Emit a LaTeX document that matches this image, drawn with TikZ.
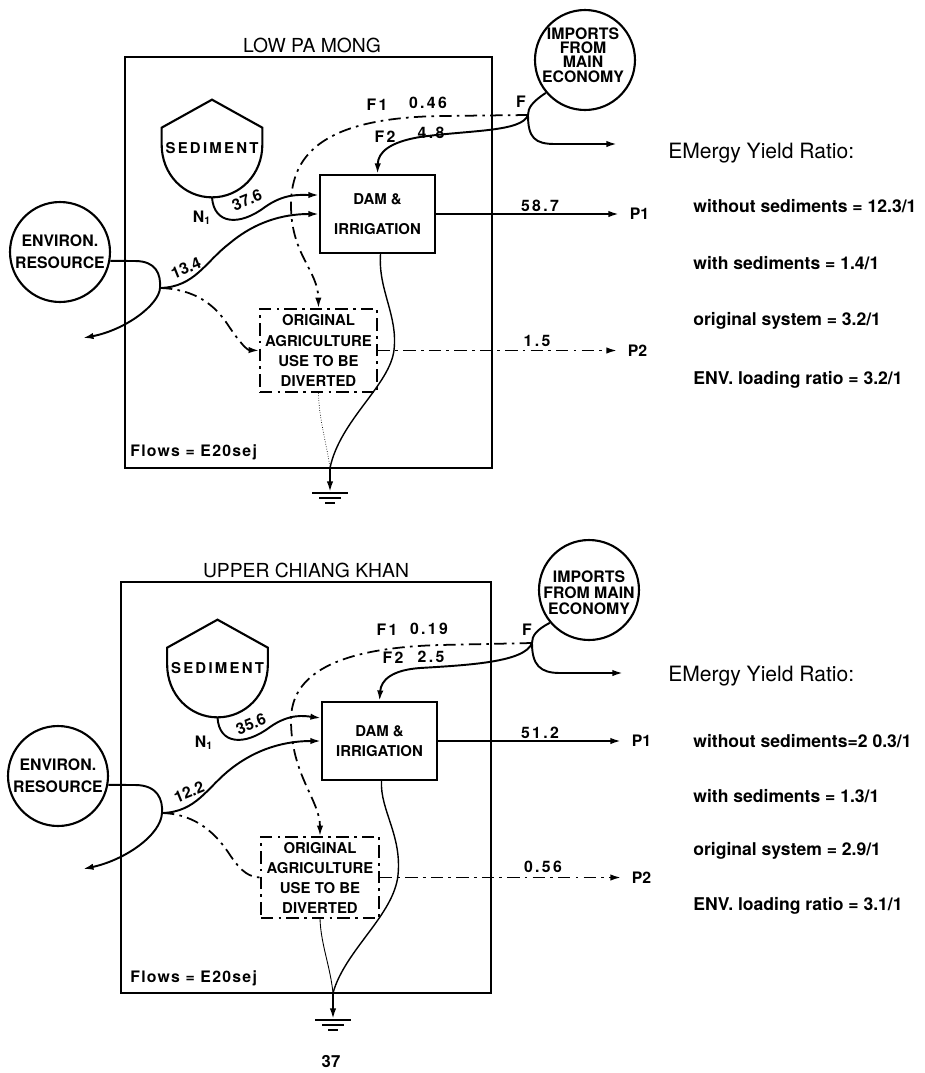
\documentclass[tikz,border=0pt]{standalone}
\usepackage{fontspec}
\setmainfont{TeX Gyre Heros}
\usetikzlibrary{arrows.meta,calc}

\tikzset{%
  panel/.style={draw, line width=1.6pt},%
  flow/.style={line width=1.1pt},%
  tip/.style={-{Latex[length=6pt,width=3.6pt]}},%
  flowarrow/.style={flow, tip},%
  dashdot/.style={line width=1pt, dash pattern=on 7pt off 3pt on 1.5pt off 3pt},%
  drain/.style={line width=0.8pt},%
  unit/.style={draw, line width=1.2pt, align=center, inner sep=1pt, font=\bfseries\fontsize{8.5}{11.4}\selectfont},%
  source/.style={circle, draw, line width=1.2pt, minimum size=2cm, inner sep=0pt, align=center, font=\bfseries\fontsize{9}{12.5}\selectfont},%
  srctext/.style={align=center, inner sep=0pt, font=\bfseries\fontsize{9}{8.1}\selectfont},%
  lbl/.style={inner sep=0pt, font=\bfseries\fontsize{9}{10}\selectfont\addfontfeatures{LetterSpace=15}},%
  slantlbl/.style={inner sep=0pt, font=\bfseries\fontsize{9}{10}\selectfont},%
  plbl/.style={anchor=west, inner sep=0pt, inner xsep=6pt, font=\bfseries\fontsize{9}{10}\selectfont},%
  ratio/.style={anchor=west, inner sep=0pt, font=\bfseries\fontsize{10}{12}\selectfont},%
  heading/.style={inner sep=0pt, font=\fontsize{11}{13}\selectfont},%
}

\begin{document}
\begin{tikzpicture}[x=0.02cm, y=-0.02cm]%
\useasboundingbox (0,0) rectangle (925,1073);%
% LOW PA MONG
\node[heading] (title1) at (312,45) {LOW PA MONG};%
\draw[panel] (125,57) rectangle (492,468);%
\node[source] (imp1) at (585,60) {};%
\node[srctext] (imptxt1) at (583,55) {IMPORTS\\FROM\\MAIN\\ECONOMY};%
\node[source] (env1) at (60,252) {ENVIRON.\\RESOURCE};%
\node[unit, minimum width=2.3cm, minimum height=1.56cm] (dam1) at (377.5,214) {DAM \&\\[6pt]IRRIGATION};%
\node[unit, dashdot, minimum width=2.34cm, minimum height=1.66cm] (orig1) at (318.5,350.5) {ORIGINAL\\AGRICULTURE\\USE TO BE\\DIVERTED};%
\node[inner sep=0pt, minimum width=2cm, minimum height=1.94cm, font=\bfseries\fontsize{8.5}{10}\selectfont\addfontfeatures{LetterSpace=15}] (sed1) at (212,148.5) {SEDIMENT};%
\draw[line width=1.2pt] (sed1.north) -- ($(sed1.north west)+(0,28)$) -- ($(sed1.north west)+(0,45)$) .. controls ($(sed1.south west)+(0,-23)$) and ($(sed1.south)+(-28,0)$) .. (sed1.south) .. controls ($(sed1.south)+(28,0)$) and ($(sed1.south east)+(0,-23)$) .. ($(sed1.north east)+(0,45)$) -- ($(sed1.north east)+(0,28)$) -- cycle;%
\coordinate (fsplit1) at (528,115);%
\coordinate (imout1) at (617,144);%
\coordinate (esplit1) at (160,288);%
\coordinate (envout1) at (83,338);%
\coordinate (gnd1) at (330,468);%
\coordinate (sink1) at (330,492);%
\node[plbl] (p1top) at (619,214) {P1};%
\node[plbl] (p2top) at (617,350.5) {P2};%
\draw[flowarrow] (imp1.220) .. controls (532,102) and (528,108) .. (fsplit1) .. controls (528,138) and (535,144) .. (555,144) -- (imout1);%
\draw[dashdot, tip] (fsplit1) -- (440,116) .. controls (330,118) and (291,150) .. (291,205) .. controls (291,255) and (318,270) .. (orig1.north);%
\draw[flowarrow] (fsplit1) .. controls (522,132) and (470,130) .. (420,137) .. controls (390,142) and (378,152) .. (dam1.north);%
\draw[flowarrow] (sed1.south) .. controls (214,225) and (240,226) .. (265,207) .. controls (285,193) and (300,195) .. ($(dam1.west)+(0,-19)$);%
\draw[flowarrow] (env1.-10) -- (135,261) .. controls (156,261) and (161,274) .. (esplit1) .. controls (159,305) and (125,330) .. (envout1);%
\draw[flowarrow] (esplit1) .. controls (195,287) and (205,262) .. (230,243) .. controls (260,218) and (290,214) .. (dam1.west);%
\draw[dashdot, tip] (esplit1) .. controls (195,289) and (215,305) .. (228,325) .. controls (240,343) and (247,350) .. (orig1.west);%
\draw[flowarrow] (dam1.east) -- (p1top.west);%
\draw[dashdot, tip] (orig1.east) -- (p2top.west);%
\draw[drain] ($(dam1.south)+(3,0)$) .. controls (378,290) and (398,315) .. (394,350) .. controls (390,385) and (340,420) .. (gnd1);%
\draw[line width=0.4pt, densely dotted] (orig1.south) .. controls (319,420) and (327,445) .. (gnd1);%
\draw[flowarrow] (gnd1) -- (sink1);%
\draw[line width=1pt] ($(sink1)+(-18,1)$) -- ($(sink1)+(18,1)$) ($(sink1)+(-11,6)$) -- ($(sink1)+(11,6)$) ($(sink1)+(-5,11)$) -- ($(sink1)+(5,11)$);%
\node[lbl] (flbl1) at (521,102) {F};%
\node[lbl] (f1lbl1) at (377,105) {F1};%
\node[lbl] (f1val1) at (428,103) {0.46};%
\node[lbl] (f2lbl1) at (385,137) {F2};%
\node[lbl] (f2val1) at (431,133) {4.8};%
\node[lbl] (n1lbl1) at (202,218) {N\textsubscript{1}};%
\node[slantlbl, rotate=22] (n1val1) at (247,200) {37.6};%
\node[slantlbl, rotate=22] (envval1) at (186,268) {13.4};%
\node[lbl] (p1val1) at (540,206) {58.7};%
\node[lbl] (p2val1) at (537,341) {1.5};%
\node[lbl, anchor=west, font=\bfseries\fontsize{9}{10}\selectfont\addfontfeatures{LetterSpace=8}] (flows1) at (130,452) {Flows = E20sej};%
\node[anchor=west, inner sep=0pt, font=\fontsize{12}{14}\selectfont] (eyr1) at (668,153) {EMergy Yield Ratio:};%
\node[ratio] (r11) at (693,206) {without sediments = 12.3/1};%
\node[ratio] (r12) at (693,263) {with sediments = 1.4/1};%
\node[ratio] (r13) at (693,321) {original system = 3.2/1};%
\node[ratio] (r14) at (693,380) {ENV. loading ratio = 3.2/1};%
% UPPER CHIANG KHAN
\node[heading] (title2) at (306,570) {UPPER CHIANG KHAN};%
\draw[panel] (121,582) rectangle (491,993);%
\node[source] (imp2) at (589,590) {};%
\node[srctext, font=\bfseries\fontsize{9}{9.2}\selectfont] (imptxt2) at (589,593) {IMPORTS\\FROM MAIN\\ECONOMY};%
\node[source] (env2) at (58,776) {ENVIRON.\\RESOURCE};%
\node[unit, minimum width=2.3cm, minimum height=1.56cm] (dam2) at (379.5,741) {DAM \&\\IRRIGATION};%
\node[unit, dashdot, minimum width=2.36cm, minimum height=1.62cm] (orig2) at (320,877.5) {ORIGINAL\\AGRICULTURE\\USE TO BE\\DIVERTED};%
\node[inner sep=0pt, minimum width=2cm, minimum height=1.94cm, font=\bfseries\fontsize{8.5}{10}\selectfont\addfontfeatures{LetterSpace=15}] (sed2) at (217.5,668.5) {SEDIMENT};%
\draw[line width=1.2pt] (sed2.north) -- ($(sed2.north west)+(0,28)$) -- ($(sed2.north west)+(0,45)$) .. controls ($(sed2.south west)+(0,-23)$) and ($(sed2.south)+(-28,0)$) .. (sed2.south) .. controls ($(sed2.south)+(28,0)$) and ($(sed2.south east)+(0,-23)$) .. ($(sed2.north east)+(0,45)$) -- ($(sed2.north east)+(0,28)$) -- cycle;%
\coordinate (fsplit2) at (532,643);%
\coordinate (imout2) at (623,673);%
\coordinate (esplit2) at (162,813);%
\coordinate (envout2) at (83,869);%
\coordinate (gnd2) at (333,993);%
\coordinate (sink2) at (333,1019);%
\node[plbl] (p1bot) at (621,741) {P1};%
\node[plbl] (p2bot) at (621,877.5) {P2};%
\draw[flowarrow] (imp2.220) .. controls (536,630) and (532,636) .. (fsplit2) .. controls (532,665) and (540,673) .. (560,673) -- (imout2);%
\draw[dashdot, tip] (fsplit2) -- (440,645) .. controls (335,648) and (291,675) .. (291,720) .. controls (291,775) and (320,800) .. (orig2.north);%
\draw[flowarrow] (fsplit2) .. controls (525,662) and (470,665) .. (420,668) .. controls (392,670) and (381,680) .. (dam2.north);%
\draw[flowarrow] (sed2.south) .. controls (219,745) and (245,746) .. (270,727) .. controls (290,713) and (305,716) .. ($(dam2.west)+(0,-23)$);%
\draw[flowarrow] (env2.-10) -- (135,785) .. controls (158,785) and (163,800) .. (esplit2) .. controls (161,835) and (125,860) .. (envout2);%
\draw[flowarrow] (esplit2) .. controls (197,812) and (207,787) .. (232,768) .. controls (262,745) and (292,741) .. (dam2.west);%
\draw[dashdot] (esplit2) .. controls (197,814) and (217,835) .. (230,855) .. controls (242,873) and (250,877) .. (orig2.west);%
\draw[flowarrow] (dam2.east) -- (p1bot.west);%
\draw[dashdot, tip] (orig2.east) -- (p2bot.west);%
\draw[drain] ($(dam2.south)+(2,0)$) .. controls (380,810) and (402,835) .. (398,875) .. controls (394,915) and (345,950) .. (gnd2);%
\draw[line width=0.5pt] (orig2.south) .. controls (321,945) and (330,965) .. (gnd2);%
\draw[flowarrow] (gnd2) -- (sink2);%
\draw[line width=1pt] ($(sink2)+(-18,1)$) -- ($(sink2)+(18,1)$) ($(sink2)+(-11,6)$) -- ($(sink2)+(11,6)$) ($(sink2)+(-5,11)$) -- ($(sink2)+(5,11)$);%
\node[lbl] (flbl2) at (527,630) {F};%
\node[lbl] (f1lbl2) at (387,630) {F1};%
\node[lbl] (f1val2) at (429,629) {0.19};%
\node[lbl] (f2lbl2) at (393,658) {F2};%
\node[lbl] (f2val2) at (431,657) {2.5};%
\node[lbl] (n1lbl2) at (204,743) {N\textsubscript{1}};%
\node[slantlbl, rotate=22] (n1val2) at (251,724) {35.6};%
\node[slantlbl, rotate=22] (envval2) at (189,792) {12.2};%
\node[lbl] (p1val2) at (540,733) {51.2};%
\node[lbl] (p2val2) at (543,867) {0.56};%
\node[lbl, anchor=west, font=\bfseries\fontsize{9}{10}\selectfont\addfontfeatures{LetterSpace=8}] (flows2) at (130,978) {Flows = E20sej};%
\node[anchor=west, inner sep=0pt, font=\fontsize{12}{14}\selectfont] (eyr2) at (668,676) {EMergy Yield Ratio:};%
\node[ratio] (r21) at (693,741) {without sediments=2 0.3/1};%
\node[ratio] (r22) at (693,796) {with sediments = 1.3/1};%
\node[ratio] (r23) at (693,851) {original system = 2.9/1};%
\node[ratio] (r24) at (693,906) {ENV. loading ratio = 3.1/1};%
\node[inner sep=0pt, font=\bfseries\fontsize{9.5}{11}\selectfont] (page) at (331,1062) {37};%
\end{tikzpicture}%
\end{document}
